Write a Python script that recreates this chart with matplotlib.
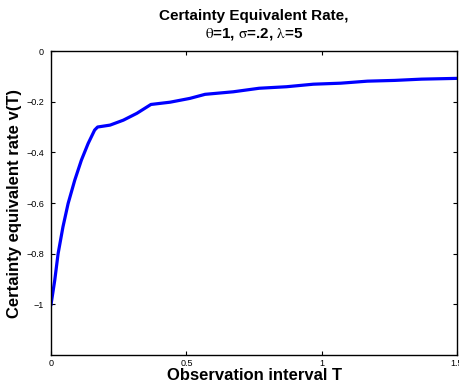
import matplotlib
matplotlib.use("Agg")
import matplotlib.pyplot as plt

plt.rcParams['font.family'] = ['Liberation Sans', 'DejaVu Sans']
plt.rcParams['mathtext.fontset'] = 'stix'

T = [0.0, 0.0136, 0.026, 0.044, 0.063, 0.0875, 0.112, 0.137, 0.161, 0.172,
     0.218, 0.267, 0.317, 0.369,
     0.44, 0.513, 0.569,
     0.673, 0.769,
     0.87, 0.969,
     1.07, 1.169,
     1.27, 1.369, 1.5]
V = [-1.0, -0.905, -0.80, -0.694, -0.602, -0.51, -0.431, -0.365, -0.312, -0.300,
     -0.2925, -0.273, -0.246, -0.211,
     -0.202, -0.187, -0.171,
     -0.161, -0.147,
     -0.141, -0.131,
     -0.127, -0.119,
     -0.116, -0.111, -0.108]

xticks = [0, 0.5, 1, 1.5]
xticklabels = ['0', '0.5', '1', '1.5']
yticks = [0, -0.2, -0.4, -0.6, -0.8, -1]
yticklabels = ['0', '\u22120.2', '\u22120.4', '\u22120.6', '\u22120.8', '\u22121']

fig = plt.figure(figsize=(4.6, 3.83), dpi=100)
ax = fig.add_axes([0.111, 0.0731, 0.8825, 0.7937])
ax.plot(T, V, color='#0000ff', lw=2.3, solid_joinstyle='round')
ax.set_xlim(0, 1.5)
ax.set_ylim(-1.2, 0)
ax.set_xticks(xticks)
ax.set_xticklabels(xticklabels)
ax.set_yticks(yticks)
ax.set_yticklabels(yticklabels)
ax.tick_params(direction='in', length=3, width=0.8, labelsize=6.5, top=True, right=True, pad=3)
ax.tick_params(axis='y', pad=5)
for s in ax.spines.values():
    s.set_linewidth(1.0)
ax.set_xlabel('Observation interval T', fontsize=12, fontweight='bold', labelpad=0)
ax.set_ylabel('Certainty equivalent rate v(T)', fontsize=12, fontweight='bold', labelpad=3)
ax.set_title('Certainty Equivalent Rate,\n$\\mathrm{\\theta}$=1, $\\mathrm{\\sigma}$=.2, $\\mathrm{\\lambda}$=5',
             fontsize=11, fontweight='bold', pad=10)
fig.savefig('out.png', dpi=100)
